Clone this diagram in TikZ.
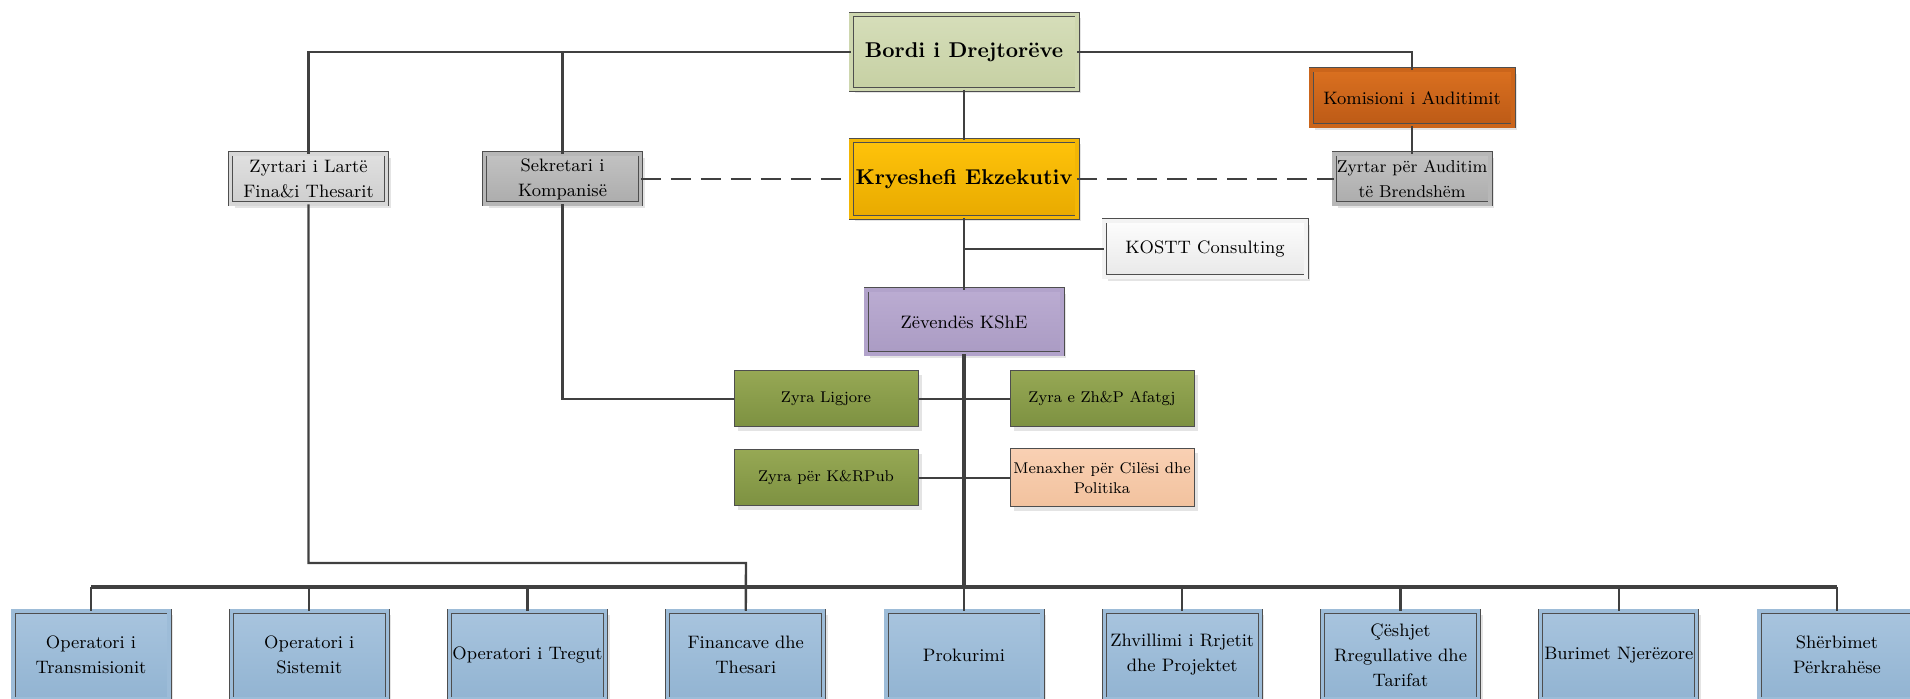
\documentclass[tikz,border=0pt]{standalone}
\usepackage{fontspec}
\usetikzlibrary{shadows}

\definecolor{linegray}{RGB}{64,64,64}
\definecolor{boxline}{RGB}{78,78,78}
\definecolor{bordtop}{RGB}{214,222,186}
\definecolor{bordbot}{RGB}{198,208,163}
\definecolor{ceotop}{RGB}{255,195,10}
\definecolor{ceobot}{RGB}{232,170,0}
\definecolor{audtop}{RGB}{218,112,32}
\definecolor{audbot}{RGB}{188,90,22}
\definecolor{ltgraytop}{RGB}{224,224,224}
\definecolor{ltgraybot}{RGB}{206,206,206}
\definecolor{graytop}{RGB}{194,194,194}
\definecolor{graybot}{RGB}{172,172,172}
\definecolor{whitetop}{RGB}{253,253,253}
\definecolor{whitebot}{RGB}{232,232,232}
\definecolor{zevtop}{RGB}{187,172,210}
\definecolor{zevbot}{RGB}{170,155,195}
\definecolor{greentop}{RGB}{150,168,84}
\definecolor{greenbot}{RGB}{125,145,65}
\definecolor{peachtop}{RGB}{249,208,179}
\definecolor{peachbot}{RGB}{242,194,158}
\definecolor{bluetop}{RGB}{168,196,222}
\definecolor{bluebot}{RGB}{146,180,210}

\tikzset{
  box/.style={draw=boxline, line width=0.5pt, align=center, inner sep=1pt,
    font=\fontsize{9}{12.5}\selectfont,
    drop shadow={shadow xshift=2pt, shadow yshift=-2pt, fill=black!30, opacity=0.35}},
  dbox/.style={box, line width=0.45pt, double=#1, double distance=1.6pt},
  bordbox/.style={dbox=bordtop!50!bordbot, top color=bordtop, bottom color=bordbot,
    minimum width=113pt, minimum height=37.5pt, font=\bfseries\fontsize{10.7}{13}\selectfont},
  ceobox/.style={dbox=ceotop!50!ceobot, top color=ceotop, bottom color=ceobot,
    minimum width=113pt, minimum height=38.5pt, font=\bfseries\fontsize{10.7}{13}\selectfont},
  audbox/.style={dbox=audtop!50!audbot, top color=audtop, bottom color=audbot,
    minimum width=101pt, minimum height=28pt},
  ltgraybox/.style={dbox=ltgraytop!50!ltgraybot, top color=ltgraytop, bottom color=ltgraybot,
    minimum width=78pt, minimum height=25pt},
  graybox/.style={dbox=graytop!50!graybot, top color=graytop, bottom color=graybot,
    minimum width=78pt, minimum height=25pt},
  whitebox/.style={dbox=whitetop!50!whitebot, top color=whitetop, bottom color=whitebot,
    minimum width=101pt, minimum height=28pt},
  zevbox/.style={dbox=zevtop!50!zevbot, top color=zevtop, bottom color=zevbot,
    minimum width=98pt, minimum height=32pt},
  greenbox/.style={box, top color=greentop, bottom color=greenbot,
    minimum width=92pt, minimum height=28pt, font=\fontsize{7.8}{10}\selectfont},
  peachbox/.style={box, top color=peachtop, bottom color=peachbot,
    minimum width=92pt, minimum height=29pt, font=\fontsize{7.8}{10}\selectfont},
  opbox/.style={dbox=bluetop!50!bluebot, top color=bluetop, bottom color=bluebot,
    minimum width=78pt, minimum height=44pt},
  conn/.style={draw=linegray, line width=1.2pt},
  trunk/.style={draw=linegray, line width=1.6pt},
  dashline/.style={draw=linegray, line width=1.3pt, dash pattern=on 10pt off 5pt}
}

\begin{document}
\begin{tikzpicture}[x=0.5pt, y=-0.5pt]
    \useasboundingbox (0,0) rectangle (1910,699);

    % Top level
    \node[bordbox] (bordi) at (964,52) {Bordi i Drejtorëve};
    \node[ceobox] (ceo) at (964,179) {Kryeshefi Ekzekutiv};
    \node[audbox] (kom) at (1412,98) {Komisioni i Auditimit};
    \node[ltgraybox] (zl) at (308.5,179) {Zyrtari i Lartë\\Fina\&i Thesarit};
    \node[graybox] (sekr) at (562.5,179) {Sekretari i\\Kompanisë};
    \node[graybox, font=\fontsize{8.6}{12.5}\selectfont] (aud) at (1412,179) {Zyrtar për Auditim\\të Brendshëm};
    \node[whitebox] (kostt) at (1205,249) {KOSTT Consulting};
    \node[zevbox] (zev) at (964,322) {Zëvendës KShE};

    % Offices
    \node[greenbox] (lig) at (826,399) {Zyra Ligjore};
    \node[greenbox] (zhp) at (1102,399) {Zyra e Zh\&P Afatgj};
    \node[greenbox] (kpub) at (826,478) {Zyra për K\&RPub};
    \node[peachbox] (men) at (1102,478) {Menaxher për Cilësi dhe\\Politika};

    % Departments
    \foreach \t [count=\i] in {{Operatori i\\Transmisionit}, {Operatori i\\Sistemit},
        {Operatori i Tregut}, {Financave dhe\\Thesari}, {Prokurimi},
        {Zhvillimi i Rrjetit\\dhe Projektet}, {Çëshjet\\Rregullative dhe\\Tarifat},
        {Burimet Njerëzore}, {Shërbimet\\Përkrahëse}}
      \node[opbox] (op\i) at ({91+218.25*(\i-1)},655) {\t};

    \coordinate (bus) at (964,587);
    \coordinate (finbend) at (746,563);

    % Lines
    \draw[conn] (bordi.west) -| (zl.north);
    \draw[conn] (sekr.north) -- (sekr.north |- bordi.west);
    \draw[conn] (bordi.east) -| (kom.north);
    \draw[conn] (bordi) -- (ceo);
    \draw[conn] (kom) -- (aud);
    \draw[dashline] (sekr) -- (ceo);
    \draw[dashline] (ceo) -- (aud);
    \draw[conn] (ceo) -- (zev);
    \draw[conn] (kostt.west) -- (kostt.west -| ceo.south);
    \draw[conn] (sekr.south) |- (lig.west);
    \draw[conn] (lig) -- (zhp);
    \draw[conn] (kpub) -- (men);
    \draw[trunk] (zev.south) -- (bus);
    \draw[conn] (zl.south) |- (finbend) -- (op4.north);
    \draw[trunk] (op1.north |- bus) -- (op9.north |- bus);
    \foreach \i in {1,...,9}
      \draw[conn] (op\i.north |- bus) -- (op\i.north);
\end{tikzpicture}
\end{document}
